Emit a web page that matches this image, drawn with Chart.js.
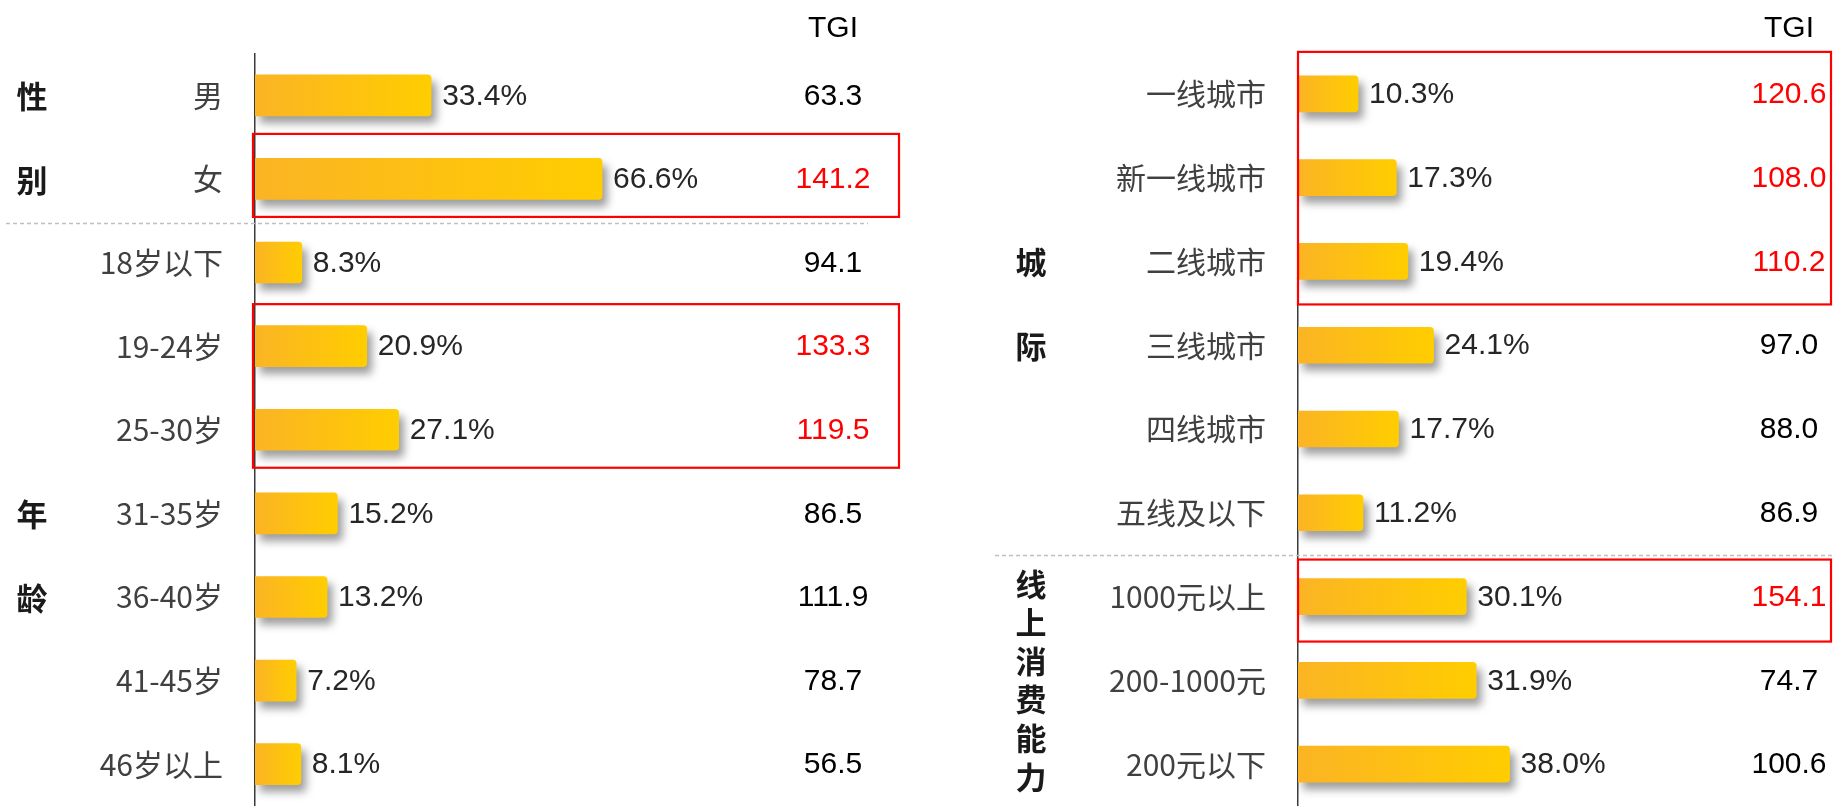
<!DOCTYPE html>
<html>
<head>
<meta charset="utf-8">
<script src="https://cdn.jsdelivr.net/npm/chart.js@4.4.1/dist/chart.umd.min.js"></script>
<style>
html,body{margin:0;padding:0;background:#fff;overflow:hidden;width:1833px;height:806px;}
#wrap{position:relative;width:1833px;height:806px;overflow:hidden;background:#fff;}
canvas{position:absolute;top:0;}
</style>
</head>
<body>
<div id="wrap">
<canvas id="c1" width="917" height="806" style="left:0;width:917px;height:806px"></canvas>
<canvas id="c2" width="916" height="806" style="left:917px;width:916px;height:806px"></canvas>
</div>
<script>
// ---------- data ----------
const leftCategories = ['男','女','18岁以下','19-24岁','25-30岁','31-35岁','36-40岁','41-45岁','46岁以上'];
const leftShare = [33.4, 66.6, 8.3, 20.9, 27.1, 15.2, 13.2, 7.2, 8.1];
const leftTGI = [63.3, 141.2, 94.1, 133.3, 119.5, 86.5, 111.9, 78.7, 56.5];
const leftGroupNames = ['性别', '年龄'];

const rightCategories = ['一线城市','新一线城市','二线城市','三线城市','四线城市','五线及以下','1000元以上','200-1000元','200元以下'];
const rightShare = [10.3, 17.3, 19.4, 24.1, 17.7, 11.2, 30.1, 31.9, 38.0];
const rightTGI = [120.6, 108.0, 110.2, 97.0, 88.0, 86.9, 154.1, 74.7, 100.6];
const rightGroupNames = ['城际', '线上消费能力'];

const tgiHeader = 'TGI';

// ---------- drawing helpers ----------
const NUM_FONT = '"Liberation Sans", Arial, sans-serif';
const CJK_FONT = '"Noto Sans CJK SC", "Noto Sans", sans-serif';
const ROW = 84.1;

function barGradient(c) {
  const chart = c.chart;
  const xs = chart.scales && chart.scales.x;
  if (!xs || c.raw === undefined || !chart.chartArea) return '#FDC010';
  const x0 = xs.getPixelForValue(xs.min);
  const x1 = xs.getPixelForValue(c.raw);
  const g = chart.ctx.createLinearGradient(x0, 0, Math.max(x1, x0 + 1), 0);
  g.addColorStop(0, '#FBB424');
  g.addColorStop(1, '#FFCD00');
  return g;
}

const panelPlugin = {
  id: 'panel',
  beforeDatasetsDraw(chart) {
    const ctx = chart.ctx;
    ctx.save();
    ctx.shadowColor = 'rgba(0,0,0,0.38)';
    ctx.shadowBlur = 9;
    ctx.shadowOffsetX = 5;
    ctx.shadowOffsetY = 7;
  },
  afterDatasetsDraw(chart) {
    chart.ctx.restore();
  },
  afterDraw(chart, args, o) {
    const ctx = chart.ctx;
    const ys = chart.scales.y;
    const meta = chart.getDatasetMeta(0);
    const rowY = i => ys.getPixelForTick(i);
    const highlighted = new Set();
    o.boxes.forEach(b => { for (let r = b.from; r <= b.to; r++) highlighted.add(r); });

    ctx.save();
    // dashed separator
    ctx.strokeStyle = '#BFBFBF';
    ctx.lineWidth = 1.5;
    ctx.setLineDash([4, 3]);
    ctx.beginPath();
    const dy = Math.round((rowY(o.dash.after) + rowY(o.dash.after + 1)) / 2) + o.dash.dy + 0.5;
    ctx.moveTo(o.dash.x0, dy);
    ctx.lineTo(o.dash.x1, dy);
    ctx.stroke();
    ctx.setLineDash([]);

    // red boxes
    ctx.strokeStyle = '#FF0000';
    ctx.lineWidth = 2.2;
    o.boxes.forEach(b => {
      const top = rowY(b.from) - b.padTop;
      const bottom = rowY(b.to) + b.padBottom;
      ctx.strokeRect(o.boxX0, top, o.boxX1 - o.boxX0, bottom - top);
    });

    // value labels and TGI
    ctx.textBaseline = 'middle';
    ctx.font = '30px ' + NUM_FONT;
    meta.data.forEach((bar, i) => {
      ctx.fillStyle = '#262626';
      ctx.textAlign = 'left';
      ctx.fillText(o.share[i].toFixed(1) + '%', bar.x + 11, bar.y + 1);
      ctx.textAlign = 'center';
      ctx.fillStyle = highlighted.has(i) ? '#FF0000' : '#000000';
      ctx.fillText(o.tgi[i].toFixed(1), o.tgiX, bar.y + 1);
    });
    ctx.fillStyle = '#000000';
    ctx.textAlign = 'center';
    ctx.fillText(tgiHeader, o.tgiX, o.tgiY);

    // group labels (vertical)
    ctx.font = 'bold 31px ' + CJK_FONT;
    ctx.fillStyle = '#1A1A1A';
    o.groups.forEach(g => {
      const chars = Array.from(g.text);
      if (g.rows) {
        chars.forEach((ch, k) => ctx.fillText(ch, o.groupX, rowY(g.rows[k]) + 1));
      } else {
        const cy = rowY(g.centerRow);
        const n = chars.length;
        chars.forEach((ch, k) => ctx.fillText(ch, o.groupX, cy + (k - (n - 1) / 2) * g.step));
      }
    });
    ctx.restore();
  }
};

function makePanel(canvasId, p) {
  const cv = document.getElementById(canvasId);
  const W = cv.width, H = cv.height;
  const plotH = ROW * p.categories.length;
  const xMax = (p.plotRight - p.axisX) / p.ppu + p.xMin;
  return new Chart(cv, {
    type: 'bar',
    data: {
      labels: p.categories,
      datasets: [{
        data: p.share,
        base: p.xMin,
        backgroundColor: barGradient,
        borderRadius: 4,
        borderSkipped: 'start',
        barThickness: p.barThickness
      }]
    },
    options: {
      indexAxis: 'y',
      responsive: false,
      maintainAspectRatio: false,
      animation: false,
      devicePixelRatio: 1,
      layout: { autoPadding: false, padding: { top: p.top, bottom: H - p.top - plotH, left: 0, right: W - p.plotRight } },
      plugins: {
        legend: { display: false },
        tooltip: { enabled: false },
        panel: {
          share: p.share, tgi: p.tgi, tgiX: p.tgiX, tgiY: 29,
          boxes: p.boxes, boxX0: p.boxX0, boxX1: p.boxX1,
          dash: p.dash, groups: p.groups, groupX: p.groupX
        }
      },
      scales: {
        x: { type: 'linear', display: false, min: p.xMin, max: xMax },
        y: {
          type: 'category',
          afterFit: s => { s.width = p.axisX; s.paddingTop = 0; s.paddingBottom = 0; },
          grid: { display: false, drawTicks: false },
          border: { display: true, color: '#3A3A3A', width: 1.5 },
          ticks: {
            color: '#404040',
            padding: 32,
            font: { family: CJK_FONT, size: 30 }
          }
        }
      }
    },
    plugins: [panelPlugin]
  });
}

makePanel('c1', {
  categories: leftCategories, share: leftShare, tgi: leftTGI,
  axisX: 255, plotRight: 900, ppu: 5.15, xMin: -0.8, top: 53.5, barThickness: 41,
  tgiX: 833, groupX: 32,
  boxX0: 253, boxX1: 899,
  boxes: [
    { from: 1, to: 1, padTop: 45, padBottom: 38 },
    { from: 3, to: 4, padTop: 42, padBottom: 38 }
  ],
  dash: { after: 1, dy: 2, x0: 6, x1: 868 },
  groups: [
    { text: leftGroupNames[0], rows: [0, 1] },
    { text: leftGroupNames[1], rows: [5, 6] }
  ]
});

makePanel('c2', {
  categories: rightCategories, share: rightShare, tgi: rightTGI,
  axisX: 381, plotRight: 914, ppu: 5.47, xMin: -0.68, top: 52, barThickness: 36,
  tgiX: 872, groupX: 114,
  boxX0: 381, boxX1: 914,
  boxes: [
    { from: 0, to: 2, padTop: 42, padBottom: 43 },
    { from: 6, to: 6, padTop: 37, padBottom: 45 }
  ],
  dash: { after: 5, dy: 0, x0: 78, x1: 916 },
  groups: [
    { text: rightGroupNames[0], rows: [2, 3] },
    { text: rightGroupNames[1], centerRow: 7, step: 38.6 }
  ]
});
</script>
</body>
</html>
